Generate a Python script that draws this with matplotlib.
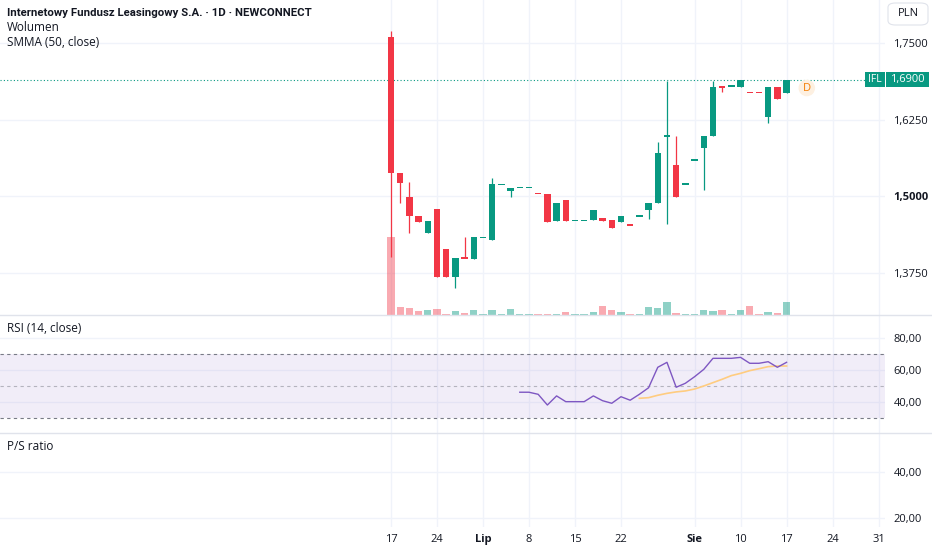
import matplotlib
matplotlib.use("Agg")
from matplotlib import pyplot as plt
from matplotlib.patches import Rectangle, FancyBboxPatch

plt.rcParams['font.family'] = ['Open Sans', 'DejaVu Sans']

# daily bars, index 0 = 17 June
opens = [1.7593, 1.5371, 1.4989, 1.4678, 1.4390, 1.4783, 1.4139, 1.3681, 1.3990, 1.3976,
         1.4325, 1.4276, 1.5191, 1.5082, 1.5136, 1.5136, 1.5038, 1.5033, 1.4596, 1.4935,
         1.4603, 1.4603, 1.4603, 1.4641, 1.4608, 1.4575, 1.4526, 1.4673, 1.4771, 1.4890,
         1.5980, 1.5507, 1.5196, 1.5588, 1.5784, 1.5980, 1.6786, 1.6797, 1.6786, 1.6694,
         1.6694, 1.6286, 1.6786, 1.6688]
highs = [1.7696, 1.5371, 1.5234, 1.4678, 1.4587, 1.4783, 1.4139, 1.3987, 1.4335, 1.4325,
         1.4325, 1.5289, 1.5191, 1.5136, 1.5136, 1.5136, 1.5038, 1.5033, 1.4890, 1.4935,
         1.4603, 1.4603, 1.4776, 1.4641, 1.4608, 1.4673, 1.4526, 1.4673, 1.4890, 1.5887,
         1.6884, 1.5980, 1.5196, 1.5588, 1.5980, 1.6884, 1.6786, 1.6797, 1.6900, 1.6694,
         1.6694, 1.6786, 1.6786, 1.6900]
lows = [1.3998, 1.4890, 1.4390, 1.4575, 1.4390, 1.3681, 1.3681, 1.3492, 1.3985, 1.3976,
        1.4325, 1.4276, 1.5191, 1.4989, 1.5136, 1.5136, 1.5038, 1.4575, 1.4596, 1.4596,
        1.4603, 1.4603, 1.4603, 1.4592, 1.4480, 1.4575, 1.4526, 1.4673, 1.4624, 1.4890,
        1.4545, 1.4984, 1.5196, 1.5588, 1.5098, 1.5980, 1.6704, 1.6797, 1.6786, 1.6694,
        1.6694, 1.6198, 1.6585, 1.6688]
closes = [1.5371, 1.5207, 1.4673, 1.4575, 1.4587, 1.3681, 1.3681, 1.3987, 1.3985, 1.4325,
          1.4325, 1.5191, 1.5191, 1.5136, 1.5136, 1.5136, 1.5038, 1.4575, 1.4890, 1.4596,
          1.4603, 1.4603, 1.4776, 1.4592, 1.4480, 1.4673, 1.4526, 1.4673, 1.4890, 1.5703,
          1.5980, 1.4984, 1.5196, 1.5588, 1.5980, 1.6786, 1.6782, 1.6797, 1.6900, 1.6694,
          1.6694, 1.6786, 1.6585, 1.6900]
volumes = [78000, 8000, 7300, 4000, 4700, 6000, 1300, 4000, 2300, 5300,
           700, 4700, 700, 6000, 700, 700, 700, 1300, 1300, 2700,
           1300, 1300, 2700, 9300, 5300, 3300, 1300, 1300, 8000, 6700,
           13300, 2000, 1300, 700, 5300, 4000, 4700, 1300, 5300, 8700,
           1300, 3300, 2000, 12700]

rsi_start = 14
rsi = [46.1, 46.1, 44.8, 38.1, 43.8, 40.2, 40.2, 40.2, 43.8, 40.8,
       39.2, 43.3, 41.1, 44.8, 48.9, 61.7, 64.8, 49.2, 51.7, 55.8,
       60.4, 67.3, 67.3, 67.3, 67.9, 64.2, 64.2, 65.2, 61.7, 64.8]
rsi_ma_start = 27
rsi_ma = [42.3, 42.7, 44.2, 45.4, 46.3, 46.9, 48.1, 50.0, 52.1, 54.2,
          56.5, 57.9, 59.6, 60.8, 62.1, 62.5, 62.5]

xtick_pos = [0, 5, 10, 15, 20, 25, 33, 38, 43, 48, 53]
xtick_labels = ['17', '24', 'Lip', '8', '15', '22', 'Sie', '10', '17', '24', '31']
month_labels = ['Lip', 'Sie']

price_ticks = [1.375, 1.5, 1.625, 1.75]
rsi_ticks = [40, 60, 80]
ps_ticks = [20, 40]

UP = '#089981'
DOWN = '#F23645'
GRID = '#f0f3fa'
TXT = '#131722'
SEP = '#e0e3eb'

W, H = 932, 550
fig = plt.figure(figsize=(W / 100, H / 100), dpi=100)
fig.patch.set_facecolor('white')


def px_axes(x0, y0, x1, y1):
    return fig.add_axes([x0 / W, 1 - y1 / H, (x1 - x0) / W, (y1 - y0) / H])


ax_p = px_axes(0, 0, 885, 315)
ax_r = px_axes(0, 315, 885, 433)
ax_s = px_axes(0, 433, 885, 527)

# bar direction; dojis follow previous close
up = []
for i in range(len(closes)):
    if closes[i] > opens[i]:
        up.append(True)
    elif closes[i] < opens[i]:
        up.append(False)
    elif i > 0 and closes[i] != closes[i - 1]:
        up.append(closes[i] > closes[i - 1])
    else:
        up.append(up[-1] if up else True)
colors = [UP if u else DOWN for u in up]
idx = list(range(len(closes)))

xlim = (-42.5, 53.7)
for ax in (ax_p, ax_r, ax_s):
    ax.set_xlim(*xlim)
    for s in ax.spines.values():
        s.set_visible(False)

p_lo, p_hi = 1.3056, 1.8203
ax_p.set_ylim(p_lo, p_hi)

# volume underlay, tallest bar takes about a quarter of the pane
vol_span = (p_hi - p_lo) * 78 / 315
vol_h = [v / max(volumes) * vol_span for v in volumes]
vol_colors = [(0.031, 0.6, 0.506, 0.45) if u else (0.949, 0.212, 0.271, 0.42) for u in up]
ax_p.bar(idx, vol_h, bottom=p_lo, width=0.8, color=vol_colors, zorder=1, linewidth=0)

# candles
min_body = 0.0022
ax_p.vlines(idx, lows, highs, colors=colors, linewidth=0.9, zorder=3)
bodies = [max(abs(c - o), min_body) for o, c in zip(opens, closes)]
bottoms = [min(o, c) if abs(c - o) >= min_body else (o + c) / 2 - min_body / 2
           for o, c in zip(opens, closes)]
ax_p.bar(idx, bodies, bottom=bottoms, width=0.7, color=colors, zorder=4, linewidth=0)

ax_p.axhline(closes[-1], xmax=865 / 885, color=UP, linestyle=(0, (1, 2)), linewidth=0.8, zorder=2)

# dividend marker
ax_p.text(len(closes) + 1.2, closes[-1] - 0.0135, 'D', color='#f57c00', fontsize=8,
          ha='center', va='center', zorder=5,
          bbox=dict(boxstyle='circle,pad=0.25', fc='#fdf0e1', ec='none'))

# RSI pane
ax_r.set_ylim(20.6, 94.4)
ax_r.axhspan(30, 70, color='#7e57c2', alpha=0.1, linewidth=0)
ax_r.axhline(70, color='#787b86', linestyle=(0, (3, 3)), linewidth=0.8)
ax_r.axhline(30, color='#787b86', linestyle=(0, (3, 3)), linewidth=0.8)
ax_r.axhline(50, color='#787b86', alpha=0.5, linestyle=(0, (3, 3)), linewidth=0.8)
ax_r.plot(range(rsi_start, rsi_start + len(rsi)), rsi, color='#7e57c2', linewidth=1, zorder=4)
ax_r.plot(range(rsi_ma_start, rsi_ma_start + len(rsi_ma)), rsi_ma, color='#ffcc80', linewidth=1.2, zorder=3)

ax_s.set_ylim(16.0, 57.3)

# ticks and grids
for ax, ticks, fmt in ((ax_p, price_ticks, '{:.4f}'), (ax_r, rsi_ticks, '{:.2f}'), (ax_s, ps_ticks, '{:.2f}')):
    ax.yaxis.tick_right()
    ax.set_yticks(ticks)
    ax.set_yticklabels([fmt.format(t).replace('.', ',') for t in ticks])
    ax.tick_params(axis='y', length=0, pad=6, labelsize=8, labelcolor=TXT)
    ax.set_xticks(xtick_pos)
    ax.grid(True, color=GRID, linewidth=1, zorder=0)
    ax.set_axisbelow(True)
    ax.tick_params(axis='x', length=0, labelbottom=False)

for lab in ax_p.get_yticklabels():
    if lab.get_text() == '1,5000':
        lab.set_fontweight('bold')

ax_s.tick_params(axis='x', labelbottom=True, pad=5, labelsize=8, labelcolor=TXT)
ax_s.set_xticklabels(xtick_labels)
for lab in ax_s.get_xticklabels():
    if lab.get_text() in month_labels:
        lab.set_fontweight('bold')

# pane separators
for yy in (315, 433):
    fig.add_artist(plt.Line2D([0, 1], [1 - yy / H] * 2, color=SEP, linewidth=1, zorder=5))

# header texts
fig.text(7 / W, 1 - 13 / H, 'Internetowy Fundusz Leasingowy S.A. · 1D · NEWCONNECT',
         fontsize=8.2, fontweight='bold', color=TXT, va='center', family=['Roboto', 'DejaVu Sans'])
fig.text(7 / W, 1 - 27.5 / H, 'Wolumen', fontsize=8.5, color=TXT, va='center')
fig.text(7 / W, 1 - 42 / H, 'SMMA (50, close)', fontsize=8.5, color=TXT, va='center')
fig.text(7 / W, 1 - 328 / H, 'RSI (14, close)', fontsize=8.5, color=TXT, va='center')
fig.text(7 / W, 1 - 447 / H, 'P/S ratio', fontsize=8.5, color=TXT, va='center')

# currency box
fig.add_artist(FancyBboxPatch((888 / W, 1 - 25 / H), 40 / W, 22 / H,
                              boxstyle='round,pad=0,rounding_size=0.008',
                              transform=fig.transFigure, fc='white', ec=SEP, linewidth=0.8,
                              zorder=10))
fig.text(908 / W, 1 - 14 / H, 'PLN', fontsize=8, color=TXT, ha='center', va='center', zorder=11)

# last price label
fig.canvas.draw()
y_disp = ax_p.transData.transform((0, closes[-1]))[1]
yc = y_disp / H
bh = 15 / H
fig.add_artist(Rectangle((865 / W, yc - bh / 2), 20 / W, bh, transform=fig.transFigure,
                         fc=UP, ec='none', zorder=10))
fig.add_artist(Rectangle((886 / W, yc - bh / 2), 43 / W, bh, transform=fig.transFigure,
                         fc=UP, ec='none', zorder=10))
fig.text(875 / W, yc, 'IFL', fontsize=7.5, color='white', ha='center', va='center', zorder=11)
fig.text(907.5 / W, yc, '{:.4f}'.format(closes[-1]).replace('.', ','), fontsize=8,
         color='white', ha='center', va='center', zorder=11)

fig.savefig('out.png', dpi=100, facecolor='white')
